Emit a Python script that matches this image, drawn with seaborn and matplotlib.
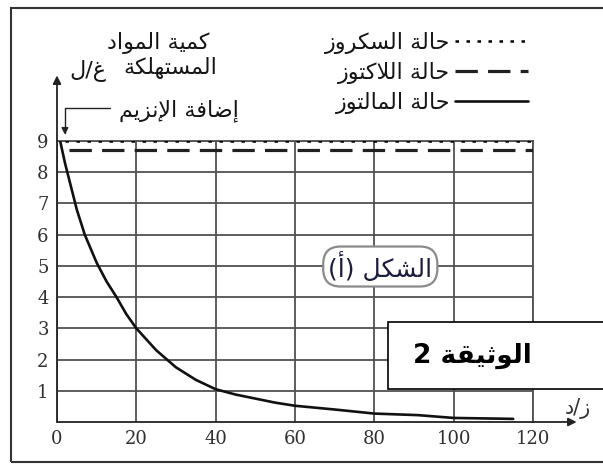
import matplotlib
matplotlib.use("Agg")
import matplotlib.pyplot as plt
import matplotlib.patches as mpatches
import seaborn as sns
import pandas as pd

# data (time in min, amount in g/L)
maltose_t = [0.8, 2, 3, 4, 5, 7, 10, 12.5, 15, 17.5, 20, 25, 30, 35, 40, 45, 50,
             55, 60, 70, 80, 91, 100, 115]
maltose_c = [9.0, 8.3, 7.8, 7.3, 6.8, 6.0, 5.1, 4.5, 4.0, 3.45, 3.0, 2.3, 1.75,
             1.35, 1.05, 0.88, 0.75, 0.62, 0.52, 0.4, 0.27, 0.22, 0.13, 0.1]
sucrose_t = [2, 120]
sucrose_c = [9.0, 9.0]
lactose_t = [3, 120]
lactose_c = [8.7, 8.7]

x_ticks = [0, 20, 40, 60, 80, 100, 120]
y_ticks = [1, 2, 3, 4, 5, 6, 7, 8, 9]

lbl_sucrose = "حالة السكروز"
lbl_lactose = "حالة اللاكتوز"
lbl_maltose = "حالة المالتوز"
y_title_1 = "كمية المواد"
y_title_2 = "المستهلكة"
y_unit = "غ/ل"
enzyme_txt = "إضافة الإنزيم"
x_title = "ز/د"
fig_label = "الشكل (أ)"
doc_label = "الوثيقة 2"

# matplotlib has no arabic shaping, so do it by hand (presentation forms + rtl)
FORMS = {
    'ا': (0xFE8D, 0xFE8E, None, None), 'أ': (0xFE83, 0xFE84, None, None),
    'إ': (0xFE87, 0xFE88, None, None), 'ب': (0xFE8F, 0xFE90, 0xFE91, 0xFE92),
    'ة': (0xFE93, 0xFE94, None, None), 'ت': (0xFE95, 0xFE96, 0xFE97, 0xFE98),
    'ث': (0xFE99, 0xFE9A, 0xFE9B, 0xFE9C), 'ج': (0xFE9D, 0xFE9E, 0xFE9F, 0xFEA0),
    'ح': (0xFEA1, 0xFEA2, 0xFEA3, 0xFEA4), 'خ': (0xFEA5, 0xFEA6, 0xFEA7, 0xFEA8),
    'د': (0xFEA9, 0xFEAA, None, None), 'ذ': (0xFEAB, 0xFEAC, None, None),
    'ر': (0xFEAD, 0xFEAE, None, None), 'ز': (0xFEAF, 0xFEB0, None, None),
    'س': (0xFEB1, 0xFEB2, 0xFEB3, 0xFEB4), 'ش': (0xFEB5, 0xFEB6, 0xFEB7, 0xFEB8),
    'ص': (0xFEB9, 0xFEBA, 0xFEBB, 0xFEBC), 'ض': (0xFEBD, 0xFEBE, 0xFEBF, 0xFEC0),
    'ط': (0xFEC1, 0xFEC2, 0xFEC3, 0xFEC4), 'ظ': (0xFEC5, 0xFEC6, 0xFEC7, 0xFEC8),
    'ع': (0xFEC9, 0xFECA, 0xFECB, 0xFECC), 'غ': (0xFECD, 0xFECE, 0xFECF, 0xFED0),
    'ف': (0xFED1, 0xFED2, 0xFED3, 0xFED4), 'ق': (0xFED5, 0xFED6, 0xFED7, 0xFED8),
    'ك': (0xFED9, 0xFEDA, 0xFEDB, 0xFEDC), 'ل': (0xFEDD, 0xFEDE, 0xFEDF, 0xFEE0),
    'م': (0xFEE1, 0xFEE2, 0xFEE3, 0xFEE4), 'ن': (0xFEE5, 0xFEE6, 0xFEE7, 0xFEE8),
    'ه': (0xFEE9, 0xFEEA, 0xFEEB, 0xFEEC), 'و': (0xFEED, 0xFEEE, None, None),
    'ي': (0xFEF1, 0xFEF2, 0xFEF3, 0xFEF4),
}
LAM_ALEF = {'ا': (0xFEFB, 0xFEFC), 'أ': (0xFEF7, 0xFEF8), 'إ': (0xFEF9, 0xFEFA)}
MIRROR = {'(': ')', ')': '('}


def dual(c):
    return c in FORMS and FORMS[c][2] is not None


def ar(s):
    out = []
    i = 0
    while i < len(s):
        c = s[i]
        if c not in FORMS:
            out.append(c)
            i += 1
            continue
        join_prev = i > 0 and dual(s[i - 1])
        if c == 'ل' and i + 1 < len(s) and s[i + 1] in LAM_ALEF:
            iso, fin = LAM_ALEF[s[i + 1]]
            out.append(chr(fin if join_prev else iso))
            i += 2
            continue
        join_next = dual(c) and i + 1 < len(s) and s[i + 1] in FORMS
        iso, fin, ini, med = FORMS[c]
        if join_prev and join_next:
            g = med
        elif join_prev:
            g = fin
        elif join_next:
            g = ini
        else:
            g = iso
        out.append(chr(g))
        i += 1
    return ''.join(MIRROR.get(c, c) for c in reversed(out))


sns.set_theme(style="white")
plt.rcParams['font.family'] = ['DejaVu Sans']

W, H = 603, 465
fig = plt.figure(figsize=(W / 100, H / 100), dpi=100)
ax = fig.add_axes([57 / W, 1 - 422 / H, (533 - 57) / W, (422 - 141) / H])


def fx(px):
    return px / W


def fy(py):
    return 1 - py / H


grid_col = '#505050'
txt_col = '#151515'
sns.lineplot(x=sucrose_t, y=sucrose_c, ax=ax, color='black', lw=1.8,
             linestyle=(0, (1.4, 3.0)), zorder=4)
sns.lineplot(x=lactose_t, y=lactose_c, ax=ax, color='#202020', lw=2.3,
             linestyle=(0, (7.0, 3.2)), zorder=4)
sns.lineplot(x=maltose_t, y=maltose_c, ax=ax, color='#111111', lw=1.9, zorder=4)

ax.set_xlim(0, 120)
ax.set_ylim(0, 9)
ax.set_xticks(x_ticks)
ax.set_yticks(y_ticks)
ax.grid(True, color=grid_col, lw=1.3)
ax.tick_params(length=0, pad=6, labelsize=13, colors='#303030')
for lab in ax.get_xticklabels() + ax.get_yticklabels():
    lab.set_family('DejaVu Serif')
ax.set_xlabel('')
ax.set_ylabel('')
for side in ['top', 'right']:
    ax.spines[side].set_color(grid_col)
    ax.spines[side].set_linewidth(1.3)
for side in ['left', 'bottom']:
    ax.spines[side].set_visible(False)

# axis arrows
ax.annotate('', xy=(0, 11.1), xytext=(0, 0), annotation_clip=False,
            arrowprops=dict(arrowstyle='-|>', color='#222222', lw=1.3,
                            mutation_scale=12, shrinkA=0, shrinkB=0))
ax.annotate('', xy=(131, 0), xytext=(0, 0), annotation_clip=False,
            arrowprops=dict(arrowstyle='-|>', color='#222222', lw=1.3,
                            mutation_scale=12, shrinkA=0, shrinkB=0))
# enzyme addition pointer
ax.annotate('', xy=(2.0, 9.2), xytext=(13.4, 10.06), annotation_clip=False,
            arrowprops=dict(arrowstyle='-|>', color='#222222', lw=1.0,
                            mutation_scale=10, shrinkA=0, shrinkB=0,
                            connectionstyle='angle,angleA=0,angleB=90,rad=0'))

fig.text(fx(158), fy(43), ar(y_title_1), ha='center', va='center', fontsize=16,
         color=txt_col)
fig.text(fx(170), fy(68), ar(y_title_2), ha='center', va='center', fontsize=16,
         color=txt_col)
fig.text(fx(88), fy(71), ar(y_unit), ha='center', va='center', fontsize=16,
         color=txt_col)
fig.text(fx(179), fy(111), ar(enzyme_txt), ha='center', va='center', fontsize=16,
         color=txt_col)
fig.text(fx(578), fy(408), ar(x_title), ha='center', va='center', fontsize=15,
         color='#333333')

ax.text(81.5, 4.98, ar(fig_label), ha='center', va='center', fontsize=18,
        color='#1c1c3c', zorder=6,
        bbox=dict(boxstyle='round,pad=0.2,rounding_size=0.7', fc='white',
                  ec='#8a8a8a', lw=1.6))

lines = ax.get_lines()
ax.legend(handles=[lines[0], lines[1], lines[2]],
          labels=[ar(lbl_sucrose), ar(lbl_lactose), ar(lbl_maltose)],
          markerfirst=False, frameon=False, loc='upper right',
          bbox_to_anchor=(fx(539), fy(21)), bbox_transform=fig.transFigure,
          fontsize=16, handlelength=3.3, handletextpad=0.2, labelspacing=0.35,
          borderpad=0, labelcolor=txt_col)

# outer frame and document box
fig.patches.append(mpatches.Rectangle((fx(11), fy(462)), fx(605 - 11), (462 - 8) / H,
                                      transform=fig.transFigure, fill=False,
                                      ec='#333333', lw=1.5, zorder=1))
fig.patches.append(mpatches.Rectangle((fx(388), fy(389)), fx(620 - 388), (389 - 322) / H,
                                      transform=fig.transFigure, fc='white',
                                      ec='black', lw=1.2, zorder=5))
fig.text(fx(472), fy(356), ar(doc_label), ha='center', va='center', fontsize=19,
         fontweight='bold', color='black', zorder=6)

fig.savefig('out.png', dpi=100)
